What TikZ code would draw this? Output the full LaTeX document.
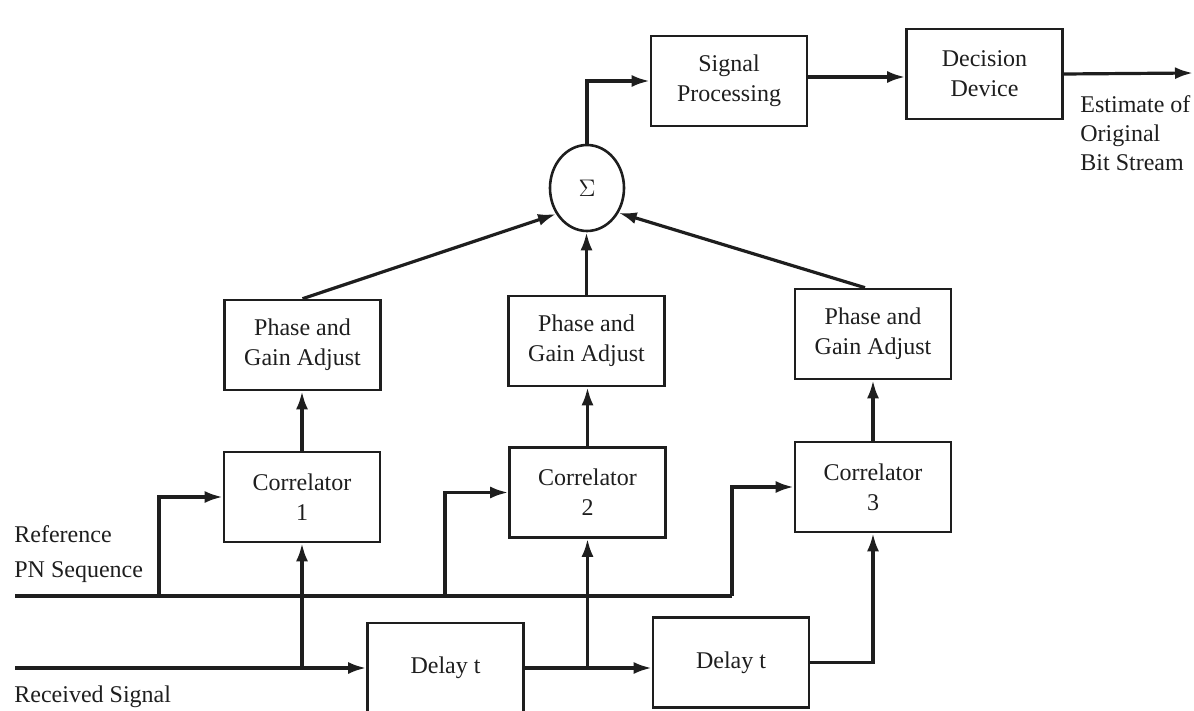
\documentclass[tikz,border=0pt]{standalone}
\usepackage{fontspec}
\setmainfont{Liberation Serif}
\usetikzlibrary{arrows.meta,shapes.geometric}
\definecolor{ink}{RGB}{30,30,30}
\begin{document}
\begin{tikzpicture}[x=0.5pt,y=-0.5pt,
  every node/.style={text=ink,font=\fontsize{12}{15}\selectfont},
  blk/.style={draw=ink,line width=1.3pt,align=center,minimum width=78pt,minimum height=45pt,inner sep=1pt},
  sumnode/.style={draw=ink,line width=1.3pt,ellipse,minimum width=37pt,minimum height=43pt,inner sep=0pt,font=\fontsize{13}{15}\selectfont},
  wire/.style={draw=ink,line width=1.6pt},
  arr/.style={wire,-{Latex[length=9pt,width=6pt]}},
  lbl/.style={anchor=west,align=left,inner sep=0pt}]
\useasboundingbox (0,0) rectangle (1194,711);

% output chain
\node[blk] (sp) at (729,81) {Signal\\Processing};
\node[blk] (dd) at (984.5,74) {Decision\\Device};
\node[sumnode] (sum) at (587,188) {$\Sigma$};

% phase and gain adjust stages
\node[blk] (pga1) at (302.5,345) {Phase and\\Gain Adjust};
\node[blk] (pga2) at (586.5,341) {Phase and\\Gain Adjust};
\node[blk] (pga3) at (873,334) {Phase and\\Gain Adjust};

% correlators
\node[blk] (c1) at (302,497) {Correlator\\1};
\node[blk] (c2) at (587.5,492.5) {Correlator\\2};
\node[blk] (c3) at (873,487) {Correlator\\3};

% delay line
\node[blk] (d1) at (445.5,668) {Delay t};
\node[blk] (d2) at (731,662.5) {Delay t};

% input ends and taps
\coordinate (rs) at (15,668);
\coordinate (pn) at (15,596);
\coordinate (pnr) at (732,596);
\coordinate (t1) at (159,596);
\coordinate (t2) at (445,596);
\coordinate (out) at (1193,73);

% labels
\node[lbl,font=\fontsize{12}{17.5}\selectfont] (ref) at (14,554) {Reference\\PN Sequence};
\node[lbl] (rcv) at (14,697) {Received Signal};
\node[lbl,font=\fontsize{12}{14.5}\selectfont] (est) at (1080,133) {Estimate of\\Original\\Bit Stream};

% received signal path
\draw[arr] (rs) -- (rs -| d1.west);
\draw[arr] (c1.south |- rs) -- (c1.south);
\draw[arr] (d1.east) -- (d1.east -| d2.west);
\draw[arr] (c2.south |- d1.east) -- (c2.south);
\draw[arr] (d2.east) -| (c3.south);

% reference PN sequence
\draw[wire] (pn) -- (pnr);
\draw[arr] (t1) |- (c1.west);
\draw[arr] (t2) |- (c2.west);
\draw[arr] (pnr) |- (c3.west);

% correlators to adjusters
\draw[arr] (c1.north) -- (c1.north |- pga1.south);
\draw[arr] (c2.north) -- (c2.north |- pga2.south);
\draw[arr] (c3.north) -- (c3.north |- pga3.south);

% combining
\draw[arr] (pga1.north) -- (sum.220);
\draw[arr] (pga2.north) -- (pga2.north |- sum.south);
\draw[arr] ([xshift=-4pt]pga3.north) -- (sum.322);

% output
\draw[arr] (sum.north) |- (sp.west);
\draw[arr] (sp.east |- 0,77) -- (dd.west |- 0,77);
\draw[arr] (dd.east) -- (out);
\end{tikzpicture}
\end{document}
